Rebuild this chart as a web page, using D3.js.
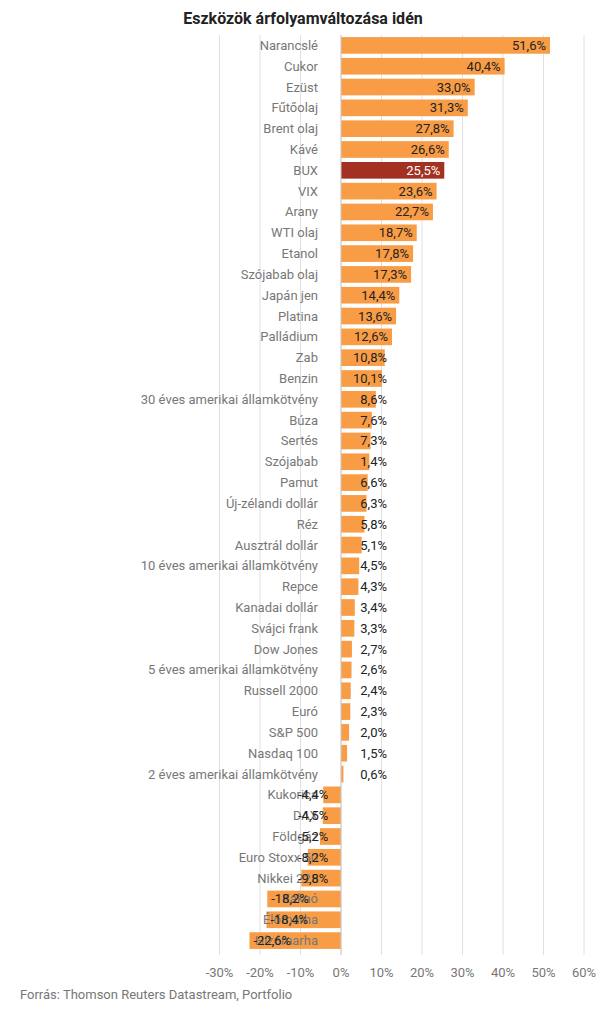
<!DOCTYPE html><html><head><meta charset="utf-8"><script src="https://cdn.jsdelivr.net/npm/d3@7"></script>
<style>body{margin:0;background:#fff}text{font-family:Roboto,sans-serif}</style></head><body><svg id="c" width="606" height="1011"></svg><script>
const categories=["Narancslé","Cukor","Ezüst","Fűtőolaj","Brent olaj","Kávé","BUX","VIX","Arany","WTI olaj","Etanol","Szójabab olaj","Japán jen","Platina","Palládium","Zab","Benzin","30 éves amerikai államkötvény","Búza","Sertés","Szójabab","Pamut","Új-zélandi dollár","Réz","Ausztrál dollár","10 éves amerikai államkötvény","Repce","Kanadai dollár","Svájci frank","Dow Jones","5 éves amerikai államkötvény","Russell 2000","Euró","S&P 500","Nasdaq 100","2 éves amerikai államkötvény","Kukorica","DAX","Földgáz","Euro Stoxx 50","Nikkei 225","Kakaó","Élőmarha","Hízómarha"];
const values=[51.6,40.4,33.0,31.3,27.8,26.6,25.5,23.6,22.7,18.7,17.8,17.3,14.4,13.6,12.6,10.8,10.1,8.6,7.6,7.3,7.0,6.6,6.3,5.8,5.1,4.5,4.3,3.4,3.3,2.7,2.6,2.4,2.3,2.0,1.5,0.6,-4.4,-4.5,-5.2,-8.2,-9.8,-18.2,-18.4,-22.6];
const valueLabels=["51,6%","40,4%","33,0%","31,3%","27,8%","26,6%","25,5%","23,6%","22,7%","18,7%","17,8%","17,3%","14,4%","13,6%","12,6%","10,8%","10,1%","8,6%","7,6%","7,3%","1,4%","6,6%","6,3%","5,8%","5,1%","4,5%","4,3%","3,4%","3,3%","2,7%","2,6%","2,4%","2,3%","2,0%","1,5%","0,6%","-4,4%","-4,5%","-5,2%","-8,2%","-9,8%","-18,2%","-18,4%","-22,6%"];
const ticks=[-30,-20,-10,0,10,20,30,40,50,60];
const svg=d3.select("#c");
const x=d3.scaleLinear().domain([-30,60]).range([219.5,584]);
const y=d3.scaleBand().domain(categories).range([35,951]).paddingInner(0.2).paddingOuter(0.1);
svg.append("text").attr("x",303).attr("y",24).attr("text-anchor","middle").attr("font-weight","bold").attr("font-size",16).attr("fill","#222").text("Eszközök árfolyamváltozása idén");
svg.selectAll(".g").data(ticks).join("line").attr("x1",d=>x(d)).attr("x2",d=>x(d)).attr("y1",35).attr("y2",955).attr("stroke","#e0e0e0");
svg.selectAll(".t").data(ticks).join("text").attr("x",d=>x(d)).attr("y",977).attr("text-anchor","middle").attr("font-size",13).attr("fill","#777").text(d=>d+"%");
svg.selectAll(".b").data(categories).join("rect").attr("x",(d,i)=>x(Math.min(0,values[i]))).attr("width",(d,i)=>Math.abs(x(values[i])-x(0))).attr("y",d=>y(d)).attr("height",y.bandwidth()).attr("fill",d=>d==="BUX"?"#a33122":"#f89d45");
svg.append("line").attr("x1",x(0)).attr("x2",x(0)).attr("y1",35).attr("y2",955).attr("stroke","#ccc");
svg.selectAll(".c").data(categories).join("text").attr("x",318).attr("y",d=>y(d)+y.bandwidth()/2+4.5).attr("text-anchor","end").attr("font-size",13).attr("fill","#777").text(d=>d);
svg.selectAll(".v").data(categories).join("text").attr("y",d=>y(d)+y.bandwidth()/2+4.5).attr("font-size",13)
 .attr("fill",d=>d==="BUX"?"#fff":"#222")
 .attr("text-anchor",(d,i)=>values[i]>=0?"end":"start")
 .attr("x",(d,i)=>values[i]>=0?Math.max(x(values[i])-4,387):Math.min(x(values[i])+4,298))
 .text((d,i)=>valueLabels[i]);
svg.append("text").attr("x",20).attr("y",999).attr("font-size",13).attr("fill","#777").text("Forrás: Thomson Reuters Datastream, Portfolio");
</script></body></html>
